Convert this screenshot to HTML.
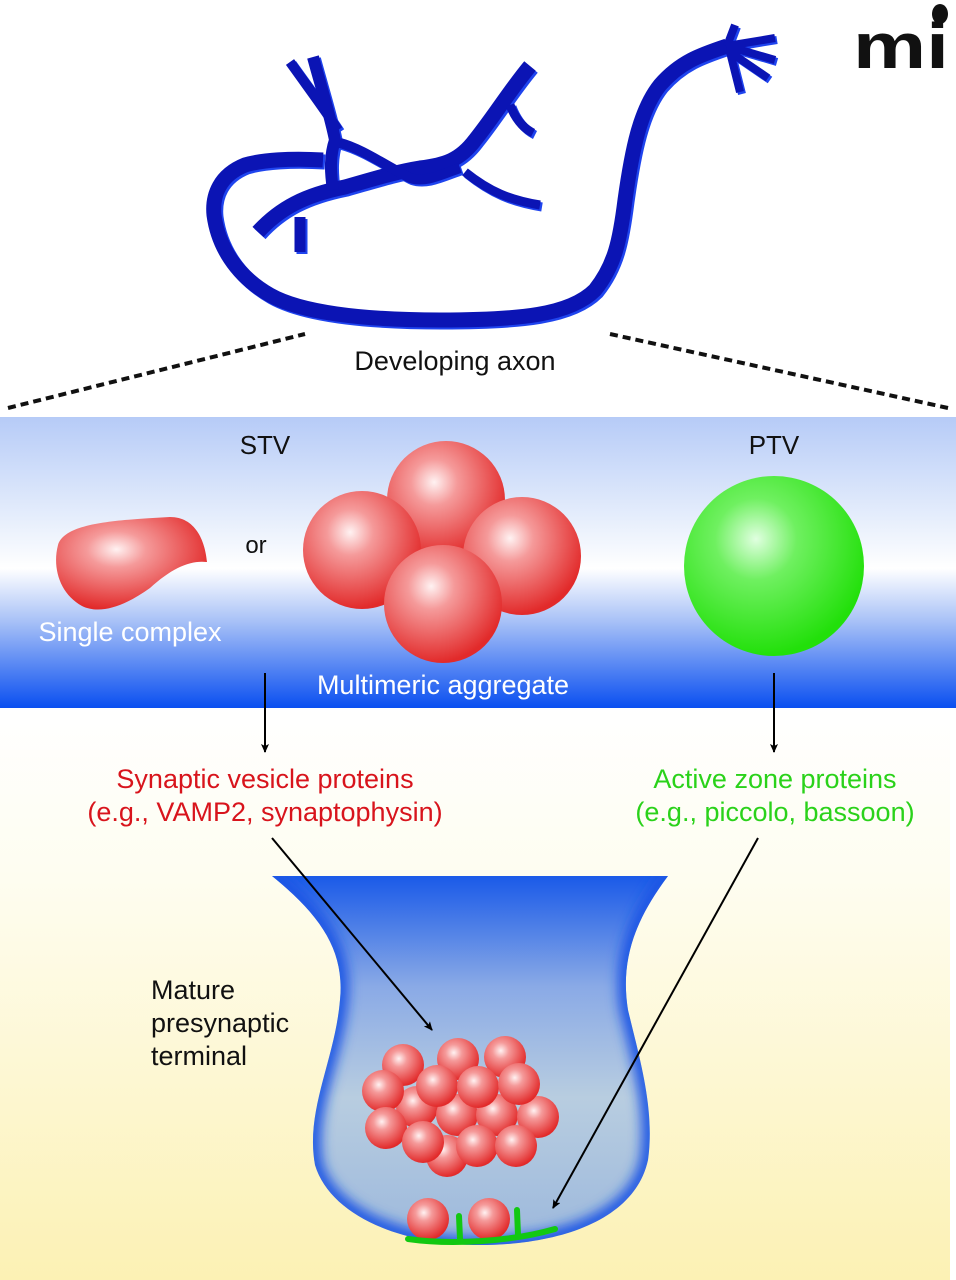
<!DOCTYPE html>
<html><head><meta charset="utf-8"><style>
html,body{margin:0;padding:0;background:#fff}
svg{display:block}
text{font-family:"Liberation Sans",sans-serif}
</style></head><body>
<svg width="956" height="1280" viewBox="0 0 956 1280" xmlns="http://www.w3.org/2000/svg">
<defs>
<linearGradient id="band" x1="0" y1="0" x2="0" y2="1">
<stop offset="0" stop-color="#b6cbf7"/>
<stop offset="0.35" stop-color="#e6eefc"/>
<stop offset="0.52" stop-color="#ffffff"/>
<stop offset="0.7" stop-color="#a9c2f7"/>
<stop offset="1" stop-color="#0a4ff0"/>
</linearGradient>
<linearGradient id="low" x1="0" y1="0" x2="0" y2="1">
<stop offset="0" stop-color="#ffffff"/>
<stop offset="0.3" stop-color="#fefdf0"/>
<stop offset="1" stop-color="#fcf1b4"/>
</linearGradient>
<radialGradient id="red" cx="0.4" cy="0.35" r="0.65">
<stop offset="0" stop-color="#fff2f2"/>
<stop offset="0.3" stop-color="#f59a9a"/>
<stop offset="1" stop-color="#e22a2a"/>
</radialGradient>
<radialGradient id="grn" cx="0.4" cy="0.35" r="0.65">
<stop offset="0" stop-color="#e0ffe0"/>
<stop offset="0.35" stop-color="#6ff060"/>
<stop offset="1" stop-color="#22e00a"/>
</radialGradient>
<linearGradient id="term" x1="0" y1="0" x2="0" y2="1">
<stop offset="0" stop-color="#1a5ae8"/>
<stop offset="0.3" stop-color="#8aaae6"/>
<stop offset="0.6" stop-color="#b8cde0"/>
<stop offset="1" stop-color="#9cb8dc"/>
</linearGradient>
<filter id="blur" x="-10%" y="-10%" width="120%" height="120%"><feGaussianBlur stdDeviation="6"/></filter>
<clipPath id="tc"><path d="M272,876 L668,876 C635,920 620,960 628,1010 C640,1060 655,1110 648,1160 C635,1220 560,1245 480,1245 C400,1245 330,1215 315,1165 C305,1110 335,1060 340,1000 C345,950 320,915 272,876 z"/></clipPath>
<marker id="ah" markerWidth="10" markerHeight="10" refX="8" refY="4" orient="auto" markerUnits="userSpaceOnUse">
<path d="M0,0 L9,4 L0,8 L2,4 z" fill="#000"/>
</marker>
<g id="ax" fill="none" stroke-linecap="butt" stroke-linejoin="round">
<path stroke-width="15" d="M323,160 C290,158 262,160 245,165 C220,175 212,195 214,215 C218,245 235,275 270,295 C300,312 360,320 440,320 C520,320 570,315 595,290 C615,265 620,240 625,200 C632,150 640,110 660,85 C680,62 700,55 727,46"/>
<path stroke-width="15" d="M258,232 C280,208 305,195 345,187 C370,180 395,172 420,168 C445,165 460,160 475,140 C495,115 510,90 530,66"/>
<path stroke-width="11" d="M300,217 L300,252"/>
<path stroke-width="12" d="M333,190 C330,170 330,155 335,140 C330,115 322,90 313,57"/>
<path stroke-width="10" d="M338,130 C325,110 310,90 290,62"/>
<path stroke-width="10" d="M340,143 C360,148 385,165 410,178 C425,183 440,175 460,168"/>
<path stroke-width="9" d="M510,105 C515,118 523,128 533,133"/>
<path stroke-width="9" d="M465,172 C490,192 510,200 540,205"/>
<path stroke-width="8" d="M727,46 L735,25 M727,46 L775,38 M727,46 L775,60 M727,50 L768,78 M730,52 L740,92"/>
</g>
</defs>

<rect x="0" y="0" width="956" height="417" fill="#fff"/>
<rect x="0" y="417" width="956" height="291" fill="url(#band)"/>
<rect x="0" y="708" width="950" height="572" fill="url(#low)"/>

<!-- axon -->
<use href="#ax" stroke="#1f44ee" transform="translate(2,2)"/>
<use href="#ax" stroke="#0b14b4"/>

<!-- mi logo -->
<text x="853" y="68" font-size="64" font-weight="bold" fill="#111" textLength="96" lengthAdjust="spacingAndGlyphs">mi</text>
<ellipse cx="940" cy="14" rx="8" ry="10" fill="#111"/>

<!-- dashed lines -->
<path d="M8,408 L305,334" stroke="#111" stroke-width="4" stroke-dasharray="8,5"/>
<path d="M610,334 L948,408" stroke="#111" stroke-width="4" stroke-dasharray="8,5"/>
<text x="455" y="370" font-size="27" text-anchor="middle" fill="#111">Developing axon</text>

<text x="265" y="454" font-size="26" text-anchor="middle" fill="#111">STV</text>
<text x="774" y="454" font-size="26" text-anchor="middle" fill="#111">PTV</text>
<text x="256" y="553" font-size="24" text-anchor="middle" fill="#111">or</text>

<path d="M58,545 C65,522 120,520 170,517 C195,517 205,540 207,562 C190,560 172,568 150,588 C125,606 100,615 82,606 C60,594 52,568 58,545 z" fill="url(#red)"/>
<text x="130" y="641" font-size="27" text-anchor="middle" fill="#fff">Single complex</text>

<circle cx="446" cy="500" r="59" fill="url(#red)"/>
<circle cx="362" cy="550" r="59" fill="url(#red)"/>
<circle cx="522" cy="556" r="59" fill="url(#red)"/>
<circle cx="443" cy="604" r="59" fill="url(#red)"/>
<text x="443" y="694" font-size="27" text-anchor="middle" fill="#fff">Multimeric aggregate</text>

<ellipse cx="774" cy="566" rx="90" ry="90" fill="url(#grn)"/>

<line x1="265" y1="673" x2="265" y2="752" stroke="#000" stroke-width="2" marker-end="url(#ah)"/>
<line x1="774" y1="673" x2="774" y2="752" stroke="#000" stroke-width="2" marker-end="url(#ah)"/>

<text x="265" y="788" font-size="27" text-anchor="middle" fill="#d8141c">Synaptic vesicle proteins</text>
<text x="265" y="821" font-size="27" text-anchor="middle" fill="#d8141c">(e.g., VAMP2, synaptophysin)</text>
<text x="775" y="788" font-size="27" text-anchor="middle" fill="#2ad21a">Active zone proteins</text>
<text x="775" y="821" font-size="27" text-anchor="middle" fill="#2ad21a">(e.g., piccolo, bassoon)</text>

<text x="151" y="999" font-size="27" fill="#111">Mature</text>
<text x="151" y="1032" font-size="27" fill="#111">presynaptic</text>
<text x="151" y="1065" font-size="27" fill="#111">terminal</text>

<!-- terminal -->
<path d="M272,876 L668,876 C635,920 620,960 628,1010 C640,1060 655,1110 648,1160 C635,1220 560,1245 480,1245 C400,1245 330,1215 315,1165 C305,1110 335,1060 340,1000 C345,950 320,915 272,876 z" fill="url(#term)"/>
<g clip-path="url(#tc)">
<path d="M272,876 C320,915 345,950 340,1000 C335,1060 305,1110 315,1165 C330,1215 400,1245 480,1245 C560,1245 635,1220 648,1160 C655,1110 640,1060 628,1010 C620,960 635,920 668,876" fill="none" stroke="#1d55e4" stroke-width="16" filter="url(#blur)"/>
</g>

<g fill="url(#red)">
<circle cx="403" cy="1065" r="21"/>
<circle cx="458" cy="1059" r="21"/>
<circle cx="505" cy="1057" r="21"/>
<circle cx="417" cy="1107" r="21"/>
<circle cx="457" cy="1115" r="21"/>
<circle cx="497" cy="1115" r="21"/>
<circle cx="538" cy="1117" r="21"/>
<circle cx="383" cy="1091" r="21"/>
<circle cx="437" cy="1086" r="21"/>
<circle cx="478" cy="1087" r="21"/>
<circle cx="519" cy="1084" r="21"/>
<circle cx="447" cy="1156" r="21"/>
<circle cx="386" cy="1128" r="21"/>
<circle cx="423" cy="1142" r="21"/>
<circle cx="477" cy="1146" r="21"/>
<circle cx="516" cy="1146" r="21"/>
<circle cx="428" cy="1219" r="21"/>
<circle cx="489" cy="1219" r="21"/>
</g>
<path d="M408,1239 C450,1245 510,1242 555,1229 M460,1239 L459,1216 M518,1235 L517,1210" stroke="#12c812" stroke-width="6" fill="none" stroke-linecap="round"/>

<line x1="272" y1="838" x2="432" y2="1030" stroke="#000" stroke-width="2" marker-end="url(#ah)"/>
<line x1="758" y1="838" x2="553" y2="1208" stroke="#000" stroke-width="2" marker-end="url(#ah)"/>
</svg>
</body></html>
